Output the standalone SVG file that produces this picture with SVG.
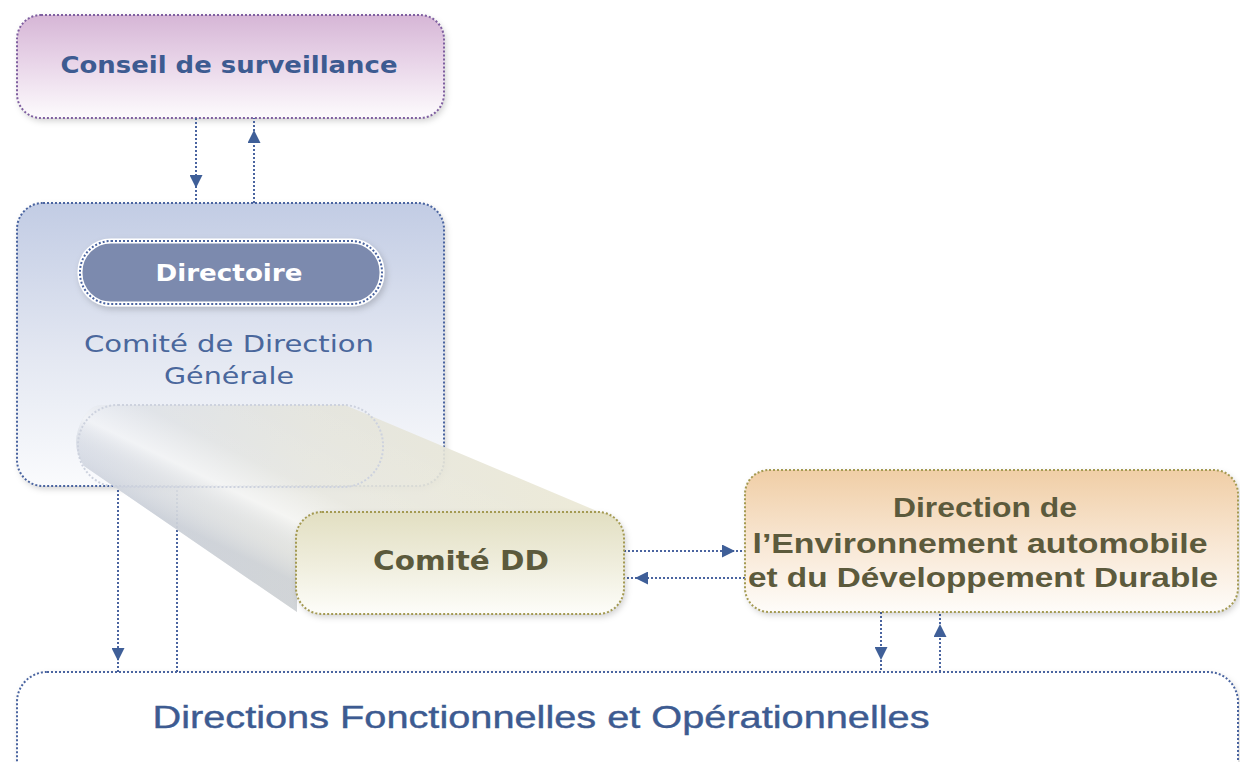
<svg xmlns="http://www.w3.org/2000/svg" width="1240" height="762" viewBox="0 0 1240 762">
<defs>
  <linearGradient id="gPurple" x1="0" y1="0" x2="0" y2="1">
    <stop offset="0" stop-color="#d6b6d6"/>
    <stop offset="0.45" stop-color="#e8d4e8"/>
    <stop offset="1" stop-color="#fdfbfd"/>
  </linearGradient>
  <linearGradient id="gBlue" x1="0" y1="0" x2="0" y2="1">
    <stop offset="0" stop-color="#c2cce4"/>
    <stop offset="0.55" stop-color="#e4e8f2"/>
    <stop offset="1" stop-color="#fafbfd"/>
  </linearGradient>
  <linearGradient id="gOrange" x1="0" y1="0" x2="0" y2="1">
    <stop offset="0" stop-color="#f0cea6"/>
    <stop offset="0.5" stop-color="#f8e6d2"/>
    <stop offset="1" stop-color="#fefcf9"/>
  </linearGradient>
  <linearGradient id="gFront" x1="0" y1="0" x2="0" y2="1">
    <stop offset="0" stop-color="#e2dfc2"/>
    <stop offset="0.5" stop-color="#efeddc"/>
    <stop offset="1" stop-color="#fdfdf9"/>
  </linearGradient>
  <linearGradient id="gSlab" x1="0" y1="0" x2="1" y2="0">
    <stop offset="0" stop-color="#d8dde8"/>
    <stop offset="0.45" stop-color="#e4e4dc"/>
    <stop offset="1" stop-color="#ebe8d4"/>
  </linearGradient>
  <linearGradient id="gSlabShade" gradientUnits="userSpaceOnUse" x1="330" y1="395" x2="250" y2="560">
    <stop offset="0" stop-color="#ffffff" stop-opacity="0"/>
    <stop offset="0.5" stop-color="#ffffff" stop-opacity="0.1"/>
    <stop offset="0.7" stop-color="#ffffff" stop-opacity="0.6"/>
    <stop offset="0.86" stop-color="#d8dbe0" stop-opacity="0.25"/>
    <stop offset="1" stop-color="#b8bfcc" stop-opacity="0.45"/>
  </linearGradient>
  <filter id="shadow" x="-10%" y="-10%" width="125%" height="130%">
    <feDropShadow dx="2" dy="3" stdDeviation="3" flood-color="#000000" flood-opacity="0.18"/>
  </filter>
  <marker id="arrow" viewBox="0 0 10 10" refX="10" refY="5" markerUnits="userSpaceOnUse" markerWidth="13" markerHeight="13" orient="auto">
    <path d="M0,0 L10,5 L0,10 z" fill="#3f5f98"/>
  </marker>
  <style>
    .dotB { fill: none; stroke: #4a64a0; stroke-width: 2; stroke-dasharray: 2 2; }
    .dotP { fill: none; stroke: #7f5fa0; stroke-width: 2; stroke-dasharray: 2 2; }
    .dotO { fill: none; stroke: #a49a52; stroke-width: 2; stroke-dasharray: 2 2; }
    .conn { fill: none; stroke: #4a64a0; stroke-width: 2; stroke-dasharray: 2 2; marker-mid: url(#arrow); }
    .title { font-family: "DejaVu Sans", "Liberation Sans", sans-serif; font-weight: bold; text-anchor: middle; }
    .olive { fill: #5c5a3c; }
    .blue { fill: #3d5b91; }
  </style>
</defs>

<g id="conseil">
  <rect x="17" y="15" width="427" height="103" rx="24" fill="url(#gPurple)" filter="url(#shadow)"/>
  <rect x="17" y="15" width="427" height="103" rx="24" class="dotP"/>
  <text class="title blue" x="229" y="73" font-size="23" textLength="337" lengthAdjust="spacingAndGlyphs">Conseil de surveillance</text>
</g>

<g id="comite-direction">
  <rect x="17" y="203" width="427" height="283" rx="26" fill="url(#gBlue)" filter="url(#shadow)"/>
  <rect x="17" y="203" width="427" height="283" rx="26" class="dotB"/>
  <text x="229" y="352" font-family="DejaVu Sans, Liberation Sans, sans-serif" font-size="23" text-anchor="middle" fill="#4a679c" textLength="290" lengthAdjust="spacingAndGlyphs">Comité de Direction</text>
  <text x="229" y="384" font-family="DejaVu Sans, Liberation Sans, sans-serif" font-size="23" text-anchor="middle" fill="#4a679c" textLength="130" lengthAdjust="spacingAndGlyphs">Générale</text>
</g>

<g id="directoire">
  <rect x="80" y="241" width="302" height="63" rx="31" fill="#7b8aae" stroke="#ffffff" stroke-width="5" filter="url(#shadow)"/>
  <rect x="80" y="241" width="302" height="63" rx="31" class="dotB"/>
  <text class="title" x="229" y="281" font-size="23" fill="#ffffff" textLength="147" lengthAdjust="spacingAndGlyphs">Directoire</text>
</g>

<g id="connectors">
  <path class="conn" d="M196,118 L196,188 L196,203"/>
  <path class="conn" d="M254,203 L254,130 L254,118"/>
  <path class="conn" d="M118,486 L118,661 L118,672"/>
  <path class="dotB" d="M177,486 L177,672"/>
  <path class="conn" d="M624,551 L735,551 L745,551"/>
  <path class="conn" d="M745,578 L635,578 L624,578"/>
  <path class="conn" d="M881,612 L881,660 L881,672"/>
  <path class="conn" d="M940,672 L940,624 L940,612"/>
</g>

<g id="comite-dd">
  <path d="M102,405 L345,405 L604,514 L322,514 Q298,514 297,540 L297,612 L84,466 Q72,448 78,430 Q86,405 102,405 Z" fill="url(#gSlab)" opacity="0.9"/>
  <path d="M102,405 L345,405 L604,514 L322,514 Q298,514 297,540 L297,612 L84,466 Q72,448 78,430 Q86,405 102,405 Z" fill="url(#gSlabShade)"/>
  <rect x="78" y="405" width="305" height="82" rx="40" fill="none" stroke="#cdd2de" stroke-width="2" stroke-dasharray="2 2"/>
  <rect x="296" y="512" width="328" height="102" rx="26" fill="url(#gFront)" filter="url(#shadow)"/>
  <rect x="296" y="512" width="328" height="102" rx="26" class="dotO"/>
  <text class="title olive" x="461" y="570" font-size="26" textLength="176" lengthAdjust="spacingAndGlyphs">Comité DD</text>
</g>

<g id="direction-environnement">
  <rect x="745" y="470" width="493" height="142" rx="24" fill="url(#gOrange)" filter="url(#shadow)"/>
  <rect x="745" y="470" width="493" height="142" rx="24" class="dotO"/>
  <text class="olive" x="985" y="517" font-family="Liberation Sans, Arial, sans-serif" font-weight="bold" font-size="28" text-anchor="middle" textLength="184" lengthAdjust="spacingAndGlyphs">Direction de</text>
  <text class="olive" x="980" y="553" font-family="Liberation Sans, Arial, sans-serif" font-weight="bold" font-size="28" text-anchor="middle" textLength="455" lengthAdjust="spacingAndGlyphs">l’Environnement automobile</text>
  <text class="olive" x="983" y="587" font-family="Liberation Sans, Arial, sans-serif" font-weight="bold" font-size="28" text-anchor="middle" textLength="470" lengthAdjust="spacingAndGlyphs">et du Développement Durable</text>
</g>

<g id="directions-fonctionnelles">
  <rect x="17" y="672" width="1221" height="120" rx="30" fill="#ffffff" filter="url(#shadow)"/>
  <rect x="17" y="672" width="1221" height="120" rx="30" class="dotB"/>
  <text class="blue" x="541" y="728" font-family="Liberation Sans, Arial, sans-serif" font-size="31" text-anchor="middle" stroke="#3d5b91" stroke-width="0.4" textLength="777" lengthAdjust="spacingAndGlyphs">Directions Fonctionnelles et Opérationnelles</text>
</g>
</svg>
